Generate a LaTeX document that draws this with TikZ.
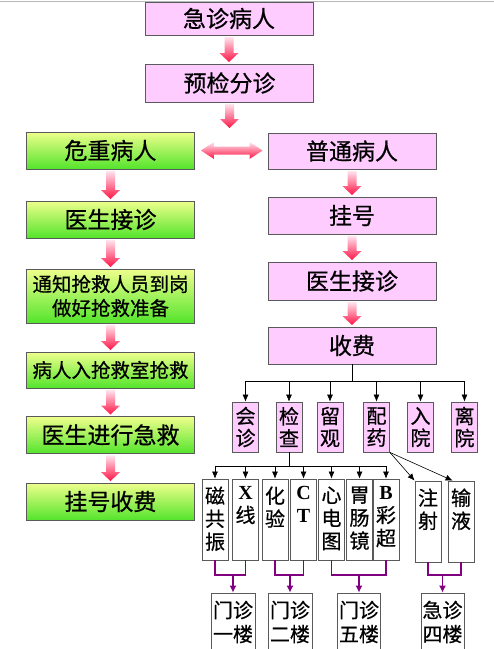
\documentclass[tikz,border=0pt]{standalone}
\usepackage{fontspec}
\setmainfont{Noto Sans CJK SC}[FakeBold=0.6]
\newfontfamily\latin{Liberation Serif}
\usepackage{tikz}
\usetikzlibrary{positioning,arrows.meta,calc}

\definecolor{boxpink}{RGB}{255,204,255}
\definecolor{boxline}{RGB}{90,90,90}
\definecolor{greentop}{RGB}{238,255,140}
\definecolor{greenbot}{RGB}{84,228,44}
\definecolor{arrowtop}{RGB}{255,228,238}
\definecolor{arrowbot}{RGB}{255,20,70}
\definecolor{floorline}{RGB}{128,0,128}

% text of the tall boxes sits at the top
\newcommand\vtext[1]{\parbox[c][74pt][t]{24pt}{\centering\vspace*{4pt}#1}}

% fat shaded arrow pointing down
\newcommand\fatdown[2]{%
  \path[fatarrow] let \p1=($(#1)+(0,1.5)$), \p2=($(#2)-(0,1.5)$) in
    (\x1-4.5pt,\y1) -- (\x1+4.5pt,\y1) -- (\x1+4.5pt,\y2+9pt) -- (\x1+9.5pt,\y2+9pt)
    -- (\x1,\y2) -- (\x1-9.5pt,\y2+9pt) -- (\x1-4.5pt,\y2+9pt) -- cycle;}
% fat shaded arrow pointing both ways
\newcommand\fatboth[2]{%
  \path[fatarrow] let \p1=($(#1)+(6,0)$), \p2=($(#2)-(5,0)$) in
    (\x1,\y1) -- (\x1+13pt,\y1+8.5pt) -- (\x1+13pt,\y1+4pt) -- (\x2-13pt,\y1+4pt)
    -- (\x2-13pt,\y1+8.5pt) -- (\x2,\y1) -- (\x2-13pt,\y1-8.5pt) -- (\x2-13pt,\y1-4pt)
    -- (\x1+13pt,\y1-4pt) -- (\x1+13pt,\y1-8.5pt) -- cycle;}

\begin{document}
\begin{tikzpicture}[
    x=1pt, y=-1pt,
    bigpink/.style  = {draw=boxline,line width=0.9pt,fill=boxpink,minimum width=168pt,minimum height=37pt,inner sep=0pt,font=\fontsize{23}{26}\selectfont},
    biggreen/.style = {draw=boxline,line width=0.9pt,top color=greentop,bottom color=greenbot,minimum width=168pt,minimum height=37pt,inner sep=0pt,align=center,font=\fontsize{23}{26}\selectfont},
    small/.style    = {draw=boxline,line width=0.8pt,fill=boxpink,minimum width=26pt,minimum height=50pt,inner sep=0pt,align=center,font=\fontsize{20}{22}\selectfont},
    tall/.style     = {draw=boxline,line width=0.8pt,fill=white,minimum width=26pt,minimum height=81pt,inner sep=0pt,font=\fontsize{20}{23}\selectfont},
    floor/.style    = {draw=boxline,line width=0.8pt,fill=white,minimum width=44pt,minimum height=58pt,inner sep=0pt,align=center,font=\fontsize{20}{24}\selectfont},
    tree/.style     = {line width=0.6pt,-{Latex[length=7pt,width=6pt]}},
    purp/.style     = {draw=floorline,line width=1.2pt},
    floorarr/.style = {draw=floorline,line width=1.2pt,-{Latex[length=7pt,width=7pt]}},
    fatarrow/.style = {top color=arrowtop,bottom color=arrowbot}
  ]
  \useasboundingbox (0,0) rectangle (494,649);
  \clip (0,0) rectangle (494,649);
  \draw[gray!55,line width=1pt] (0,1) -- (494,1);

  \node[bigpink] (n1) at (229,18.5) [minimum height=33pt] {急诊病人};
  \node[bigpink] (n2) at (229.5,83) [minimum height=38pt] {预检分诊};
  \coordinate (split) at (229.5,129.5);

  % left: critical patients
  \node[biggreen] (L1) at (110.5,150.5) {危重病人};
  \node[biggreen] (L2) at (110.5,219.5) {医生接诊};
  \node[biggreen,minimum height=54pt,font=\fontsize{19.5}{24}\selectfont] (L3) at (110.5,296) {通知抢救人员到岗\\做好抢救准备};
  \node[biggreen,minimum height=36pt,font=\fontsize{19.5}{24}\selectfont] (L4) at (110.5,370) {病人入抢救室抢救};
  \node[biggreen] (L5) at (110.5,435) {医生进行急救};
  \node[biggreen] (L6) at (110.5,501.5) {挂号收费};

  % right: ordinary patients
  \node[bigpink] (R1) at (352,151) [minimum height=36pt] {普通病人};
  \node[bigpink] (R2) at (352,215.5) {挂号};
  \node[bigpink] (R3) at (352,281) [minimum height=38pt] {医生接诊};
  \node[bigpink] (R4) at (352,345.5) {收费};

  \fatdown{n1.south}{n2.north}
  \fatdown{n2.south}{split}
  \fatboth{L1.east}{R1.west}
  \foreach \a/\b in {L1/L2, L2/L3, L3/L4, L4/L5, L5/L6, R1/R2, R2/R3, R3/R4} {
    \fatdown{\a.south}{\b.north}
  }

  % after payment
  \foreach \i/\x/\lbl in {1/245.5/会\\诊, 2/289/检\\查, 3/330/留\\观, 4/376.5/配\\药, 5/420.5/入\\院, 6/464.5/离\\院} {
    \node[small] (A\i) at (\x,427) {\lbl};
  }
  \coordinate (bus1) at (0,381);
  \draw[line width=0.6pt] (R4.south) -- (R4.south |- bus1);
  \draw[line width=0.6pt] (A1.north |- bus1) -- (A6.north |- bus1);
  \foreach \i in {1,...,6} { \draw[tree] (A\i.north |- bus1) -- (A\i.north); }

  % examinations
  \foreach \i/\x/\lbl in {1/215/磁\\共\\振, 2/245.5/{\latin\bfseries X}\\线, 3/275/化\\验, 4/303.5/{\latin\bfseries C}\\{\latin\bfseries T}, 5/331.5/心\\电\\图, 6/359.5/胃\\肠\\镜, 7/386/{\latin\bfseries B}\\彩\\超} {
    \node[tall] (B\i) at (\x,519.5) {\vtext{\lbl}};
  }
  \node[tall] (C1) at (428,521.5) {\vtext{注\\射}};
  \node[tall] (C2) at (461,521.5) {\vtext{输\\液}};

  \coordinate (bus2) at (0,466);
  \draw[line width=0.6pt] (A2.south) -- (A2.south |- bus2);
  \draw[line width=0.6pt] (B1.north |- bus2) -- (B7.north |- bus2);
  \foreach \i in {1,...,7} { \draw[tree] (B\i.north |- bus2) -- (B\i.north); }
  \draw[tree] (A4.south east) -- (C1.north west);
  \draw[tree] (A4.south east) -- ($(C2.north west)+(5,0)$);

  % floors
  \node[floor] (D1) at (233,622) {门诊\\一楼};
  \node[floor] (D2) at (290,622) {门诊\\二楼};
  \node[floor] (D3) at (359,622) [minimum width=43pt] {门诊\\五楼};
  \node[floor] (D4) at (442.5,622) [minimum width=43pt] {急诊\\四楼};

  \coordinate (brk) at (0,575);
  \foreach \a/\b/\d in {B1/B2/D1, B3/B4/D2, B5/B7/D3, C1/C2/D4} {
    \draw[purp] (\a.south) |- (\b.south |- brk) -- (\b.south);
    \draw[floorarr] (\d.north |- brk) -- (\d.north);
  }
\end{tikzpicture}
\end{document}
